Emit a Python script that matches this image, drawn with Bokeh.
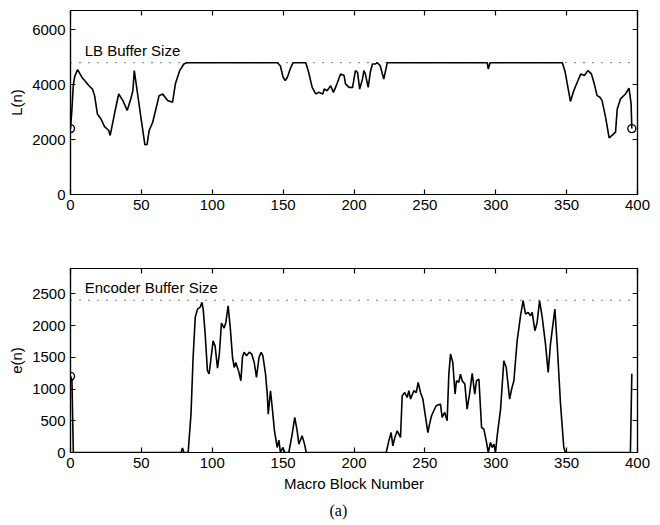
from bokeh.plotting import figure
from bokeh.models import Range1d, LinearAxis, FixedTicker, Label, Span, Title
from bokeh.layouts import column
from bokeh.embed import file_html
from bokeh.resources import INLINE

# ---------------- data ----------------
x_ticks = [0, 50, 100, 150, 200, 250, 300, 350, 400]
l_ticks = [0, 2000, 4000, 6000]
e_ticks = [0, 500, 1000, 1500, 2000, 2500]

LB_BUFFER = 4800
ENC_BUFFER = 2400

l_n = [0, 1, 2, 3, 5, 8, 11, 13, 15.5, 17, 19, 21.5, 24, 27, 28, 31, 34, 37, 40, 42.5,
       44, 45, 47, 50, 52.5, 54, 55.5, 58, 60, 62.5, 65, 68.5, 72, 74, 77, 80, 82,
       146, 148, 150, 151.5, 153, 155, 157, 166, 168, 170.5, 173, 175, 178, 179, 181,
       183.5, 185.5, 188, 190.5, 193, 194, 196.5, 199, 201, 202.5, 204, 206, 207, 208,
       210, 211.5, 213, 215, 216.5, 218.5, 221, 223.5, 294, 294.7, 296, 347, 349,
       352.7, 355, 358, 360, 362.5, 365, 367.5, 369.5, 371.5, 373.5, 375, 377.5, 380,
       382, 384.5, 385.7, 388, 391.5, 394, 395.5, 396]
l_val = [2400, 3100, 4000, 4300, 4550, 4270, 4090, 3960, 3840, 3600, 2930, 2750, 2470,
         2330, 2150, 2930, 3660, 3420, 3060, 3480, 3780, 4510, 3780, 2690, 1810, 1820,
         2330, 2630, 3060, 3600, 3660, 3420, 3360, 4030, 4510, 4750, 4800,
         4800, 4690, 4270, 4150, 4270, 4570, 4800, 4800, 4450, 3900, 3660, 3720, 3660,
         3840, 3780, 3960, 3720, 4030, 4390, 4330, 4030, 3900, 3900, 4510, 4450, 3840,
         4210, 4510, 4390, 3900, 4450, 4750, 4750, 4800, 4690, 4200, 4800, 4800, 4570,
         4800, 4800, 4450, 3390, 3780, 4150, 4390, 4330, 4510, 4390, 4030, 3600, 3540,
         3420, 2810, 2060, 2150, 2270, 3115, 3480, 3660, 3870, 3300, 2400]
l_mark_n = [0, 396]
l_mark_val = [2400, 2400]

e_n = [0, 1, 2, 78, 79, 80, 83, 85, 86.5, 88, 89.6, 91.5, 92.7, 93.6, 95, 96.6, 97.8,
       100.6, 102, 103.7, 105, 106.5, 108.4, 109.6, 111.2, 112.7, 114.3, 115.5, 116.6,
       118.5, 120.2, 121.3, 122.5, 124.2, 126.1, 127.9, 129.6, 131.2, 133, 134.5, 135.7,
       137.6, 138.8, 139.5, 141.1, 142.3, 143.9, 145.8, 147, 148.1, 149.8, 151.1, 154,
       156.4, 158.2, 159.9, 161.1, 163.4, 165.1, 166.3, 222.7, 224.6, 226.2, 227.4,
       228.8, 230.5, 232.8, 234, 235.8, 237.5, 238.7, 239.9, 242.2, 243.9, 245.3, 246.9,
       248.6, 250.5, 252.1, 253.3, 254.7, 256.3, 258, 261, 262.2, 264, 265.7, 266.9,
       268.1, 269.7, 271.3, 272.3, 273.9, 275.1, 276.3, 278.2, 279.8, 281.5, 283.4,
       285.2, 286.4, 288.1, 290, 291.6, 293.3, 294.7, 296.3, 297.5, 298.7, 299.8, 301,
       303.4, 305.7, 307.4, 309.8, 311.2, 312.8, 315.1, 317.5, 319.3, 321, 322.9, 324.5,
       325.7, 327.6, 329.2, 330.9, 332.8, 335.1, 337, 338.6, 341.7, 343.4, 345.7, 348,
       349.2, 395, 396]
e_val = [1200, 1150, 0, 0, 70, 0, 0, 605, 1500, 2130, 2260, 2290, 2366, 2260, 1870, 1290,
         1240, 1760, 1680, 1330, 1550, 2040, 1960, 2050, 2310, 1970, 1500, 1340, 1420,
         1290, 1130, 1500, 1580, 1525, 1580, 1550, 1420, 1183, 1500, 1577, 1525, 1236,
         921, 605, 973, 710, 342, 79, 195, 0, 79, 0, 0, 290, 552, 342, 132, 263, 132, 0,
         0, 184, 315, 105, 237, 342, 237, 894, 946, 867, 973, 842, 973, 946, 1104, 946,
         842, 552, 315, 448, 579, 658, 737, 763, 552, 631, 500, 1236, 1552, 1419, 921,
         1131, 1104, 1236, 1131, 1078, 684, 921, 1246, 921, 1131, 1157, 394, 369, 184, 0,
         158, 79, 132, 0, 263, 684, 1446, 1340, 842, 1000, 1131, 1761, 2156, 2392, 2182,
         2208, 2156, 2208, 1919, 2050, 2392, 2129, 1709, 1262, 1709, 2261, 1683, 763, 79,
         0, 0, 1240]
e_mark_n = [0]
e_mark_val = [1200]

FONT = "Liberation Sans"
FS = "15px"


def style_axis(ax, labels=True):
    ax.major_tick_in = 5
    ax.major_tick_out = 0
    ax.minor_tick_line_color = None
    ax.axis_line_color = "black"
    ax.axis_line_width = 1.2
    ax.major_tick_line_color = "black"
    ax.major_tick_line_width = 1.2
    if labels:
        ax.major_label_text_font = FONT
        ax.major_label_text_font_size = FS
        ax.major_label_text_color = "black"
        ax.major_label_standoff = 5
        ax.axis_label_text_font = FONT
        ax.axis_label_text_font_size = FS
        ax.axis_label_text_font_style = "normal"
        ax.axis_label_text_color = "black"
    else:
        ax.major_label_text_font_size = "1px"
        ax.major_label_text_color = None
        ax.major_label_text_alpha = 0
        ax.major_label_standoff = 0


def make_panel(height, top, bottom, ymax, yticks, ylabel, xs, ys, mn, mv,
               buffer_level, text, text_y, xlabel=None):
    p = figure(width=652, height=height, output_backend="svg", toolbar_location=None,
               x_range=Range1d(0, 400), y_range=Range1d(0, ymax),
               min_border_left=70, min_border_right=15,
               min_border_top=top, min_border_bottom=bottom)
    p.xgrid.visible = False
    p.ygrid.visible = False
    p.outline_line_color = "black"
    p.outline_line_width = 1.2
    p.background_fill_color = "white"
    p.border_fill_color = "white"
    p.xaxis.ticker = FixedTicker(ticks=x_ticks)
    p.yaxis.ticker = FixedTicker(ticks=yticks)
    style_axis(p.xaxis[0])
    style_axis(p.yaxis[0])
    p.yaxis.axis_label = ylabel
    p.yaxis.axis_label_standoff = 4
    if xlabel:
        p.xaxis.axis_label = xlabel
        p.xaxis.axis_label_standoff = 4
    top_ax = LinearAxis(ticker=FixedTicker(ticks=x_ticks))
    style_axis(top_ax, labels=False)
    p.add_layout(top_ax, "above")
    right_ax = LinearAxis(ticker=FixedTicker(ticks=yticks))
    style_axis(right_ax, labels=False)
    p.add_layout(right_ax, "right")

    p.add_layout(Span(location=buffer_level, dimension="width", line_color="black",
                      line_width=1, line_dash="1 8"))
    p.line(xs, ys, line_color="black", line_width=1.6)
    p.scatter(mn, mv, marker="circle", size=8, fill_color=None, line_color="black",
              line_width=1.4)
    p.add_layout(Label(x=10, y=text_y, text=text, text_font=FONT, text_font_size=FS,
                       text_baseline="middle", text_color="black"))
    return p


p1 = make_panel(222, 10, 28, 6700, l_ticks, "L(n)", l_n, l_val, l_mark_n, l_mark_val,
                LB_BUFFER, "LB Buffer Size", 5240)
p2 = make_panel(302, 46, 72, 2900, e_ticks, "e(n)", e_n, e_val, e_mark_n, e_mark_val,
                ENC_BUFFER, "Encoder Buffer Size", 2593, xlabel="Macro Block Number")
p2.add_layout(Title(text="(a)", align="left", text_font="Liberation Serif",
                    text_font_size="16px", text_font_style="normal", offset=259,
                    text_color="black", standoff=10), "below")

layout = column(p1, p2, spacing=0)
open("out.html", "w").write(file_html(layout, INLINE))
